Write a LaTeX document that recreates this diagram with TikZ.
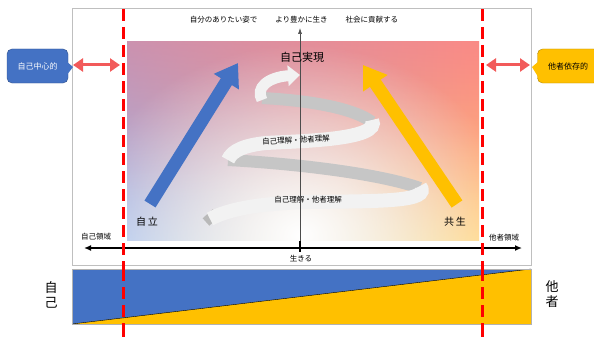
\documentclass[tikz,border=0pt]{standalone}
\usepackage{fontspec}
\setmainfont{Noto Sans CJK JP}
\usepackage{tikz}
\usetikzlibrary{arrows.meta,fadings,shadings,positioning}
\definecolor{jblue}{HTML}{4472C4}
\definecolor{jyellow}{HTML}{FFC000}
\definecolor{jred}{HTML}{F25A5A}
\definecolor{cornUL}{HTML}{A68BBA}
\definecolor{cornUR}{HTML}{FF7D6B}
\definecolor{cornLL}{HTML}{B3C6EA}
\definecolor{cornLR}{HTML}{FFD684}
\definecolor{topPink}{HTML}{F59AA4}
\tikzfading[name=glow, inner color=transparent!0, outer color=transparent!100]
\tikzfading[name=downfade, top color=transparent!0, bottom color=transparent!100]

\begin{document}
\begin{tikzpicture}[x=1pt,y=-1pt,
  lbl/.style={font=\fontsize{7.5}{8}\selectfont},
  divider/.style={red,line width=3pt,dash pattern=on 12pt off 6pt},
  swing/.style={jred,line width=3pt,{Triangle[width=13pt,length=10pt]}-{Triangle[width=13pt,length=10pt]}},
  bigarrow/.style={line width=13pt,-{Triangle[width=28pt,length=22pt]}},
  backband/.style={gray!45,line width=12pt},
  frontband/.style={gray!10,line width=14pt},
  callout/.style={rounded corners=5pt,minimum width=61pt,minimum height=34pt,font=\fontsize{8}{9}\selectfont}]

\useasboundingbox (0,0) rectangle (594,337);
\draw[gray!50] (72,8) rectangle (531,265);

% background field
\shade[upper left=cornUL,upper right=cornUR,lower left=cornLL,lower right=cornLR] (127,42) rectangle (479,240);
\begin{scope}
\clip (127,42) rectangle (479,240);
\fill[topPink,path fading=downfade,opacity=0.6] (127,0) rectangle (479,200);
\fill[white,path fading=glow] (300,235) ellipse (220 and 190);
\end{scope}

% rising arrows
\coordinate (blueTail) at (150,204);
\coordinate (blueTip) at (238,63);
\coordinate (yellowTail) at (457,204);
\coordinate (yellowTip) at (363,65);
\draw[bigarrow,jblue] (blueTail) -- (blueTip);
\draw[bigarrow,jyellow] (yellowTail) -- (yellowTip);

% spiral
\draw[backband] (228,160) .. controls (300,164) and (380,174) .. (420,188);
\draw[backband] (262,98) .. controls (300,100) and (350,106) .. (372,122);
\draw[gray!55,line width=10pt] (216,213) -- (206,222);
\draw[frontband] (420,186) .. controls (432,202) and (380,201) .. (310,202) .. controls (262,203) and (228,209) .. (210,219);
\draw[frontband] (372,120) .. controls (382,140) and (300,141) .. (266,143) .. controls (246,145) and (232,150) .. (228,160);
\draw[frontband,line width=11pt,-{Triangle[width=20pt,length=12pt]}] (262,100) .. controls (255,88) and (268,77) .. (300,75);

\node[lbl,rotate=3] (insideUp) at (296,140) {自己理解・他者理解};
\node[lbl] (insideLow) at (308,200) {自己理解・他者理解};

% axes
\coordinate (selfEnd) at (84,248);
\coordinate (otherEnd) at (522,248);
\coordinate (lifeTop) at (300,28);
\coordinate (lifeBase) at (300,252);
\draw[black!70,line width=0.6pt,-{Latex[length=6pt,width=4pt]}] (lifeBase) -- (lifeTop);
\draw[line width=1.3pt] (300,241) -- (lifeBase);
\draw[line width=1.3pt,{Latex[length=7pt,width=6pt]}-{Latex[length=7pt,width=6pt]}] (selfEnd) -- (otherEnd);

\node[lbl] (motto) at (294,20) {自分のありたい姿で\hspace{18pt}より豊かに生き\hspace{18pt}社会に貢献する};
\node[font=\fontsize{11}{12}\selectfont] (goal) at (302,57) {自己実現};
\node[font=\fontsize{10}{11}\selectfont] (indep) at (147,222) {自\,立};
\node[font=\fontsize{10}{11}\selectfont] (symb) at (455,222) {共\,生};
\node[lbl] (selfArea) at (96,237) {自己領域};
\node[lbl] (otherArea) at (504,238) {他者領域};
\node[lbl] (live) at (301,259) {生きる};

% dividers and callouts
\draw[divider] (123,9) -- (123,337);
\draw[divider] (482,9) -- (482,337);

\node[callout,fill=jblue,draw=jblue!70!black,text=white] (selfish) at (37.5,66) {自己中心的};
\fill[jblue] (66,61) -- (73,67) -- (66,76) -- cycle;
\node[callout,fill=jyellow,draw=jyellow!70!black] (depend) at (568,66) {他者依存的};
\fill[jyellow] (539,61) -- (532,67) -- (540,80) -- cycle;
\coordinate (leftA) at (73,65);
\coordinate (leftB) at (120,65);
\coordinate (rightA) at (486,65);
\coordinate (rightB) at (530,65);
\draw[swing] (leftA) -- (leftB);
\draw[swing] (rightA) -- (rightB);

% balance bar
\fill[jblue] (72,269) rectangle (531,324);
\fill[jyellow] (72,324) -- (531,269) -- (531,324) -- cycle;
\draw[thin] (72,324) -- (531,269);
\draw[gray!60] (72,269) rectangle (531,324);
\draw[divider] (123,269) -- (123,337);
\draw[divider] (482,269) -- (482,337);

\node[font=\fontsize{13}{15}\selectfont,align=center] (selfBar) at (51,295) {自\\己};
\node[font=\fontsize{13}{15}\selectfont,align=center] (otherBar) at (552,294) {他\\者};
\end{tikzpicture}
\end{document}
